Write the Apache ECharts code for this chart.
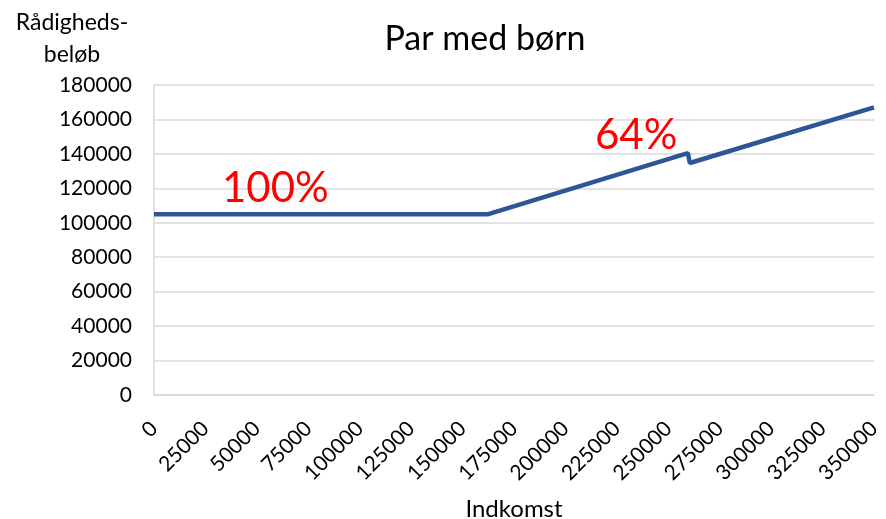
<!DOCTYPE html>
<html><head><meta charset="utf-8">
<script src="https://cdn.jsdelivr.net/npm/echarts@6/dist/echarts.min.js"></script>
<style>html,body{margin:0;padding:0;background:#fff}#c{width:886px;height:519px}</style>
</head><body><div id="c"></div>
<script>
const incomes = [0, 162500, 259500, 260500, 350000];
const amounts = [105000, 105000, 140500, 134700, 167000];
const yTicks = [0, 20000, 40000, 60000, 80000, 100000, 120000, 140000, 160000, 180000];
const xTicks = [0, 25000, 50000, 75000, 100000, 125000, 150000, 175000, 200000, 225000, 250000, 275000, 300000, 325000, 350000];
const title = 'Par med børn';
const yName = 'Rådigheds-\nbeløb';
const xName = 'Indkomst';
const pctLabels = ['100%', '64%'];

const font = 'Lato, "Open Sans", sans-serif';
const chart = echarts.init(document.getElementById('c'));
chart.setOption({
  animation: false,
  title: { text: title, left: 480, top: 17, textAlign: 'center',
    textStyle: { fontFamily: font, fontSize: 34, fontWeight: 'normal', color: '#000' } },
  grid: { left: 154, right: 12, top: 85, bottom: 124, containLabel: false, outerBoundsMode: 'none' },
  xAxis: {
    type: 'value', min: xTicks[0], max: xTicks[xTicks.length - 1], interval: 25000,
    name: xName, nameLocation: 'middle', nameGap: 102,
    nameTextStyle: { fontFamily: font, fontSize: 24, color: '#000' },
    axisLine: { show: true, lineStyle: { color: '#d9d9d9', width: 1.5 } },
    axisTick: { show: false },
    splitLine: { show: false },
    axisLabel: { rotate: 45, fontFamily: font, fontSize: 21, color: '#000', margin: 30,
      formatter: v => String(v) }
  },
  yAxis: {
    type: 'value', min: yTicks[0], max: yTicks[yTicks.length - 1], interval: 20000,
    axisLine: { show: true, lineStyle: { color: '#d9d9d9', width: 1.5 } },
    axisTick: { show: false },
    splitLine: { show: true, lineStyle: { color: '#d9d9d9', width: 1.5 } },
    axisLabel: { fontFamily: font, fontSize: 21, color: '#000', margin: 22,
      formatter: v => String(v) }
  },
  graphic: [
    { type: 'text', x: 72, y: 7, z: 100, style: { text: yName, fontFamily: font, fontSize: 23, fill: '#000', align: 'center', lineHeight: 32 } },
    { type: 'text', left: 222, top: 167, z: 100, style: { text: pctLabels[0], fontFamily: font, fontSize: 42, fill: '#ff0000' } },
    { type: 'text', left: 595, top: 114, z: 100, style: { text: pctLabels[1], fontFamily: font, fontSize: 42, fill: '#ff0000' } }
  ],
  series: [{
    type: 'line', data: incomes.map((x, i) => [x, amounts[i]]),
    showSymbol: false, symbol: 'none',
    lineStyle: { color: '#2f5597', width: 4.5 }
  }]
});
</script></body></html>
